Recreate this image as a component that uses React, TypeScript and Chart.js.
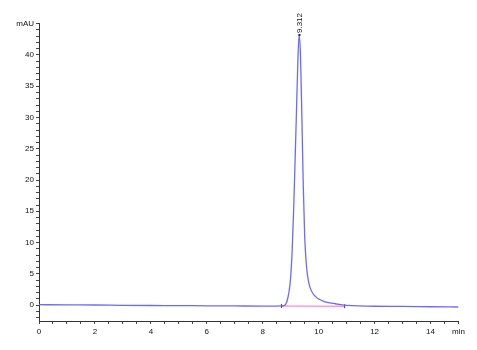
import React, { useEffect, useRef } from "react";
import { Chart, registerables } from "chart.js";

Chart.register(...registerables);

// Retention time (min) and signal (mAU)
const retentionTimes = [0, 1, 2, 3, 4, 5, 6, 7, 8, 8.5, 8.7, 8.8, 8.85, 8.9, 8.95, 9.0, 9.05, 9.1, 9.15, 9.2, 9.25, 9.3, 9.35, 9.4, 9.45, 9.5, 9.55, 9.6, 9.65, 9.7, 9.8, 9.9, 10.0, 10.2, 10.4, 10.6, 10.8, 11, 12, 13, 14, 15];
const absorbance = [0.05, 0.02, 0.0, -0.05, -0.08, -0.1, -0.13, -0.15, -0.17, -0.17, -0.15, 0.0, 0.4, 1.2, 2.4, 4.5, 8.5, 14.5, 22, 30, 38, 43.2, 40, 30, 19, 11, 7, 4.8, 3.5, 2.7, 1.8, 1.3, 0.95, 0.55, 0.35, 0.2, 0.05, -0.05, -0.2, -0.22, -0.28, -0.32];

// Integration baseline
const baselineTimes = [8.67, 10.93];
const baselineValues = [-0.16, -0.2];

// Peak annotation
const peakTime = 9.312;
const peakHeight = 43.2;
const peakLabel = "9.312";

// Axis settings
const xMin = 0;
const xMax = 15;
const yMin = -2.56;
const yMax = 45;
const xUnitLabel = "min";
const yUnitLabel = "mAU";

const FONT = "'Liberation Sans', Arial, sans-serif";

export default function App() {
  const ref = useRef<HTMLCanvasElement | null>(null);

  useEffect(() => {
    const canvas = ref.current;
    if (!canvas) return;

    const peakPlugin = {
      id: "peakLabel",
      afterDatasetsDraw(chart: any) {
        const ctx = chart.ctx;
        const xs = chart.scales.x;
        const ys = chart.scales.y;
        const px = xs.getPixelForValue(peakTime);
        const py = ys.getPixelForValue(peakHeight);
        ctx.save();
        ctx.fillStyle = "#222244";
        ctx.fillRect(px - 1, py - 1, 2, 2);
        ctx.translate(px, py - 2);
        ctx.rotate(-Math.PI / 2);
        ctx.font = `8px ${FONT}`;
        ctx.fillStyle = "#111";
        ctx.textAlign = "left";
        ctx.textBaseline = "middle";
        ctx.fillText(peakLabel, 0, 0);
        ctx.restore();
      },
    };

    const chart = new Chart(canvas, {
      type: "line",
      data: {
        datasets: [
          {
            label: "signal",
            data: retentionTimes.map((t, i) => ({ x: t, y: absorbance[i] })),
            borderColor: "rgba(90,90,255,0.9)",
            borderWidth: 1.3,
            pointRadius: 0,
            cubicInterpolationMode: "monotone",
            fill: false,
          },
          {
            label: "baseline",
            data: baselineTimes.map((t, i) => ({ x: t, y: baselineValues[i] })),
            borderColor: "rgba(255,90,210,0.9)",
            borderWidth: 1.2,
            pointRadius: 2,
            pointStyle: "line",
            rotation: 90,
            pointBorderColor: "#444",
            pointBorderWidth: 1,
            fill: false,
          },
        ],
      },
      options: {
        responsive: false,
        animation: false,
        events: [],
        layout: { padding: { left: 0, right: 18.5, top: 23.75, bottom: 0 } },
        plugins: { legend: { display: false }, tooltip: { enabled: false } },
        scales: {
          x: {
            type: "linear",
            min: xMin,
            max: xMax,
            afterFit(scale: any) {
              scale.height = 29;
            },
            afterBuildTicks(scale: any) {
              const t = [];
              for (let v = 0; v <= 30; v++) t.push({ value: v / 2 });
              scale.ticks = t;
            },
            grid: { drawOnChartArea: false, drawTicks: true, tickLength: 3, color: "#444" },
            border: { display: true, color: "#333", width: 1 },
            ticks: {
              autoSkip: false,
              maxRotation: 0,
              padding: 3,
              color: "#111",
              font: { size: 8, family: FONT },
              callback(v: any) {
                const n = Number(v);
                if (n === 15) return xUnitLabel;
                return n % 2 === 0 ? String(n) : "";
              },
            },
          },
          y: {
            type: "linear",
            min: yMin,
            max: yMax,
            afterFit(scale: any) {
              scale.width = 39;
            },
            afterBuildTicks(scale: any) {
              const t = [];
              for (let v = -2; v <= 45; v++) t.push({ value: v });
              scale.ticks = t;
            },
            grid: { drawOnChartArea: false, drawTicks: true, tickLength: 3, color: "#444" },
            border: { display: true, color: "#333", width: 1 },
            ticks: {
              autoSkip: false,
              padding: 2,
              color: "#111",
              font: { size: 8, family: FONT },
              callback(v: any) {
                const n = Number(v);
                if (n === 45) return yUnitLabel;
                return n % 5 === 0 ? String(n) : "";
              },
            },
          },
        },
      },
      plugins: [peakPlugin],
    } as any);

    return () => chart.destroy();
  }, []);

  return (
    <div style={{ position: "fixed", left: 0, top: 0, width: 477, height: 350, background: "#fff" }}>
      <canvas ref={ref} width={477} height={350} style={{ width: 477, height: 350, display: "block" }} />
    </div>
  );
}
